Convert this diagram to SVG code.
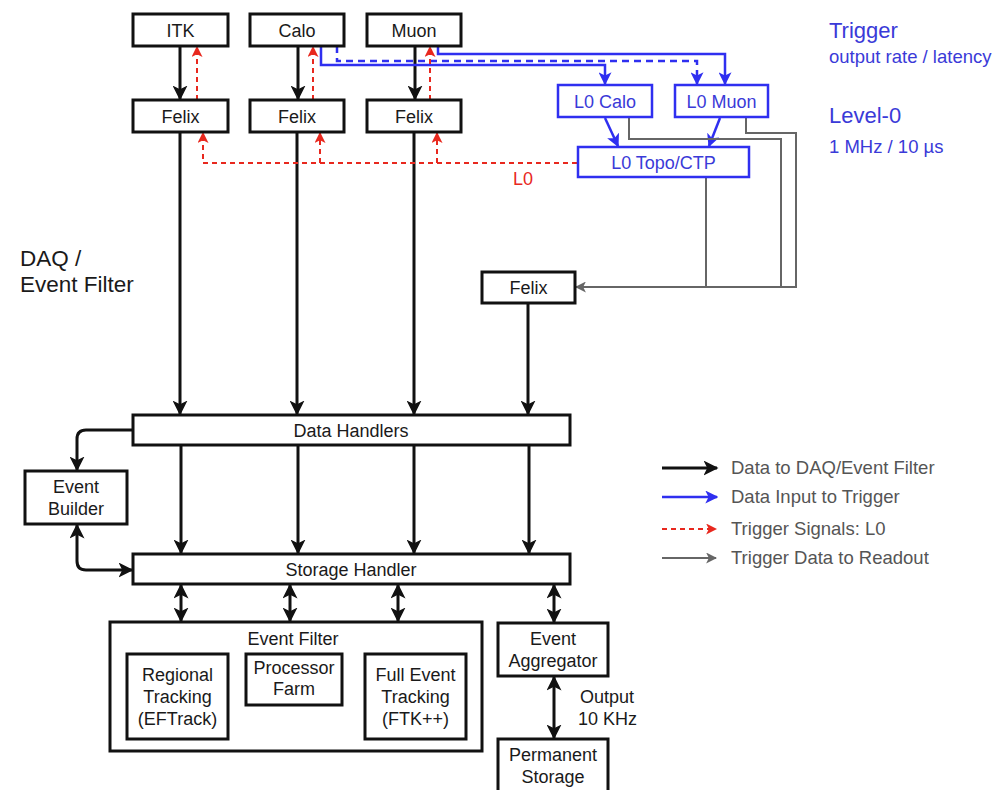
<svg xmlns="http://www.w3.org/2000/svg" width="997" height="790" viewBox="0 0 997 790">
  <style>
    .box { fill: #ffffff; stroke: #111111; stroke-width: 3; }
    .tbox { fill: #ffffff; stroke: #2f2ff0; stroke-width: 2.5; }
    .lbl { font-family: "Liberation Sans", Arial, sans-serif; font-size: 18px; fill: #1a1a1a; text-anchor: middle; }
    .tlbl { font-family: "Liberation Sans", Arial, sans-serif; font-size: 18px; fill: #3a3ad8; text-anchor: middle; }
    .data { fill: none; stroke: #111111; stroke-width: 3; }
    .trig { fill: none; stroke: #2f2ff0; stroke-width: 2.5; }
    .trigd { fill: none; stroke: #2f2ff0; stroke-width: 2.5; stroke-dasharray: 7 5; }
    .sig { fill: none; stroke: #e8281e; stroke-width: 2; stroke-dasharray: 5 4; }
    .ro { fill: none; stroke: #666666; stroke-width: 2; }
    .side { font-family: "Liberation Sans", Arial, sans-serif; fill: #3a3ad8; }
    .leg { font-family: "Liberation Sans", Arial, sans-serif; font-size: 18.5px; fill: #555555; }
    .plain { font-family: "Liberation Sans", Arial, sans-serif; fill: #1a1a1a; }
  </style>
  <defs>
    <marker id="ahBlack" viewBox="0 0 10 10" refX="9" refY="5" markerWidth="15" markerHeight="15" markerUnits="userSpaceOnUse" orient="auto-start-reverse">
      <path d="M0,0 L10,5 L0,10 L2.5,5 z" fill="#111111"/>
    </marker>
    <marker id="ahBlue" viewBox="0 0 10 10" refX="9" refY="5" markerWidth="13" markerHeight="13" markerUnits="userSpaceOnUse" orient="auto-start-reverse">
      <path d="M0,0 L10,5 L0,10 L2.5,5 z" fill="#2f2ff0"/>
    </marker>
    <marker id="ahRed" viewBox="0 0 10 10" refX="9" refY="5" markerWidth="11" markerHeight="11" markerUnits="userSpaceOnUse" orient="auto-start-reverse">
      <path d="M0,0 L10,5 L0,10 L2.5,5 z" fill="#e8281e"/>
    </marker>
    <marker id="ahGray" viewBox="0 0 10 10" refX="9" refY="5" markerWidth="11" markerHeight="11" markerUnits="userSpaceOnUse" orient="auto-start-reverse">
      <path d="M0,0 L10,5 L0,10 L2.5,5 z" fill="#666666"/>
    </marker>
  </defs>

  <rect x="0" y="0" width="997" height="790" fill="#ffffff"/>

  <!-- connectors -->
  <g id="connectors">
    <!-- detector to Felix readout -->
    <path class="data" d="M180,46 V99" marker-end="url(#ahBlack)"/>
    <path class="data" d="M298,46 V99" marker-end="url(#ahBlack)"/>
    <path class="data" d="M415,46 V99" marker-end="url(#ahBlack)"/>
    <!-- Felix to Data Handlers -->
    <path class="data" d="M180,132 V414" marker-end="url(#ahBlack)"/>
    <path class="data" d="M297,132 V414" marker-end="url(#ahBlack)"/>
    <path class="data" d="M414,132 V414" marker-end="url(#ahBlack)"/>
    <path class="data" d="M528,303 V414" marker-end="url(#ahBlack)"/>
    <!-- Data Handlers to Storage Handler -->
    <path class="data" d="M181,445 V553" marker-end="url(#ahBlack)"/>
    <path class="data" d="M298,445 V553" marker-end="url(#ahBlack)"/>
    <path class="data" d="M414,445 V553" marker-end="url(#ahBlack)"/>
    <path class="data" d="M529,445 V553" marker-end="url(#ahBlack)"/>
    <!-- Event Builder loop -->
    <path class="data" d="M133,430 H86 Q77,430 77,439 V470" marker-end="url(#ahBlack)"/>
    <path class="data" d="M77,525 V561 Q77,570 86,570 H132" marker-start="url(#ahBlack)" marker-end="url(#ahBlack)"/>
    <!-- Storage Handler to Event Filter / Aggregator -->
    <path class="data" d="M181,585 V621" marker-start="url(#ahBlack)" marker-end="url(#ahBlack)"/>
    <path class="data" d="M290,585 V621" marker-start="url(#ahBlack)" marker-end="url(#ahBlack)"/>
    <path class="data" d="M398,585 V621" marker-start="url(#ahBlack)" marker-end="url(#ahBlack)"/>
    <path class="data" d="M554,585 V622" marker-start="url(#ahBlack)" marker-end="url(#ahBlack)"/>
    <path class="data" d="M554,677 V738" marker-start="url(#ahBlack)" marker-end="url(#ahBlack)"/>
    <!-- inside Event Filter -->
    <path class="data" d="M229,732 H264 Q273,732 273,723 V706" marker-start="url(#ahBlack)" marker-end="url(#ahBlack)"/>
    <path class="data" d="M318,706 V723 Q318,732 327,732 H364" marker-start="url(#ahBlack)" marker-end="url(#ahBlack)"/>

    <!-- trigger inputs -->
    <path class="trig" d="M321,46 V65 H605 V84" marker-end="url(#ahBlue)"/>
    <path class="trigd" d="M337,46 V61 H697 V84" marker-end="url(#ahBlue)"/>
    <path class="trig" d="M438,46 V54 H725 V84" marker-end="url(#ahBlue)"/>
    <path class="trig" d="M605,118 L618,146" marker-end="url(#ahBlue)"/>
    <path class="trig" d="M720,118 L709,146" marker-end="url(#ahBlue)"/>

    <!-- L0 trigger signals -->
    <path class="sig" d="M197,100 V47" marker-end="url(#ahRed)"/>
    <path class="sig" d="M313,100 V47" marker-end="url(#ahRed)"/>
    <path class="sig" d="M430,100 V47" marker-end="url(#ahRed)"/>
    <path class="sig" d="M577,163 H203 V133" marker-end="url(#ahRed)"/>
    <path class="sig" d="M320,163 V133" marker-end="url(#ahRed)"/>
    <path class="sig" d="M437,163 V133" marker-end="url(#ahRed)"/>

    <!-- trigger data to readout -->
    <path class="ro" d="M629,118 V139 H781 V287"/>
    <path class="ro" d="M746,118 V133 H796 V287 H576" marker-end="url(#ahGray)"/>
    <path class="ro" d="M706,178 V287"/>
  </g>

  <!-- detector front-ends -->
  <g id="itk"><rect class="box" x="133" y="14" width="95" height="32"/><text class="lbl" x="180.5" y="36.5">ITK</text></g>
  <g id="calo"><rect class="box" x="250" y="14" width="94" height="32"/><text class="lbl" x="297" y="36.5">Calo</text></g>
  <g id="muon"><rect class="box" x="367" y="14" width="94" height="32"/><text class="lbl" x="414" y="36.5">Muon</text></g>

  <g id="felix-itk"><rect class="box" x="133" y="100" width="95" height="32"/><text class="lbl" x="180.5" y="122.5">Felix</text></g>
  <g id="felix-calo"><rect class="box" x="250" y="100" width="94" height="32"/><text class="lbl" x="297" y="122.5">Felix</text></g>
  <g id="felix-muon"><rect class="box" x="367" y="100" width="94" height="32"/><text class="lbl" x="414" y="122.5">Felix</text></g>
  <g id="felix-trigger"><rect class="box" x="482" y="272" width="93" height="31"/><text class="lbl" x="528.5" y="294">Felix</text></g>

  <!-- Level-0 trigger -->
  <g id="l0-calo"><rect class="tbox" x="558" y="85" width="94" height="32"/><text class="tlbl" x="605" y="107.5">L0 Calo</text></g>
  <g id="l0-muon"><rect class="tbox" x="675" y="85" width="93" height="32"/><text class="tlbl" x="721.5" y="107.5">L0 Muon</text></g>
  <g id="l0-topo"><rect class="tbox" x="578" y="147" width="171" height="30"/><text class="tlbl" x="663.5" y="168.5">L0 Topo/CTP</text></g>
  <text x="523" y="185" font-family="Liberation Sans, Arial, sans-serif" font-size="18" fill="#e8281e" text-anchor="middle">L0</text>

  <!-- DAQ -->
  <g id="data-handlers"><rect class="box" x="133" y="415" width="437" height="30"/><text class="lbl" x="351" y="436.5">Data Handlers</text></g>
  <g id="storage-handler"><rect class="box" x="133" y="554" width="437" height="30"/><text class="lbl" x="351" y="575.5">Storage Handler</text></g>
  <g id="event-builder"><rect class="box" x="25" y="471" width="102" height="53"/><text class="lbl" x="76" y="492.5">Event</text><text class="lbl" x="76" y="515">Builder</text></g>

  <g id="event-filter">
    <rect class="box" x="110" y="622" width="372" height="129"/>
    <text class="lbl" x="293" y="645">Event Filter</text>
  </g>
  <g id="regional-tracking"><rect class="box" x="127" y="654" width="101" height="85"/><text class="lbl" x="177.5" y="681">Regional</text><text class="lbl" x="177.5" y="703">Tracking</text><text class="lbl" x="177.5" y="725">(EFTrack)</text></g>
  <g id="processor-farm"><rect class="box" x="246" y="654" width="96" height="51"/><text class="lbl" x="294" y="673.5">Processor</text><text class="lbl" x="294" y="695">Farm</text></g>
  <g id="full-event-tracking"><rect class="box" x="365" y="654" width="101" height="85"/><text class="lbl" x="415.5" y="681">Full Event</text><text class="lbl" x="415.5" y="703">Tracking</text><text class="lbl" x="415.5" y="725">(FTK++)</text></g>

  <g id="event-aggregator"><rect class="box" x="498" y="623" width="110" height="53"/><text class="lbl" x="553" y="644.5">Event</text><text class="lbl" x="553" y="667">Aggregator</text></g>
  <g id="permanent-storage"><rect class="box" x="498" y="739" width="110" height="56"/><text class="lbl" x="553" y="761">Permanent</text><text class="lbl" x="553" y="783">Storage</text></g>
  <text class="plain" font-size="18" x="580" y="703">Output</text>
  <text class="plain" font-size="18" x="578" y="725">10 KHz</text>

  <!-- section titles -->
  <text class="plain" font-size="22.5" x="20" y="266">DAQ /</text>
  <text class="plain" font-size="22.5" x="20" y="292">Event Filter</text>
  <text class="side" font-size="22" x="829" y="38">Trigger</text>
  <text class="side" font-size="18.5" x="829" y="63">output rate / latency</text>
  <text class="side" font-size="22" x="829" y="123">Level-0</text>
  <text class="side" font-size="18.5" x="829" y="153">1 MHz / 10 µs</text>

  <!-- legend -->
  <g id="legend">
    <path class="data" d="M662,468 H717" marker-end="url(#ahBlack)"/>
    <path class="trig" d="M662,497 H717" marker-end="url(#ahBlue)"/>
    <path class="sig" d="M662,529 H716" marker-end="url(#ahRed)"/>
    <path class="ro" d="M662,558 H716" marker-end="url(#ahGray)"/>
    <text class="leg" x="731" y="474">Data to DAQ/Event Filter</text>
    <text class="leg" x="731" y="503">Data Input to Trigger</text>
    <text class="leg" x="731" y="535">Trigger Signals: L0</text>
    <text class="leg" x="731" y="564">Trigger Data to Readout</text>
  </g>
</svg>
